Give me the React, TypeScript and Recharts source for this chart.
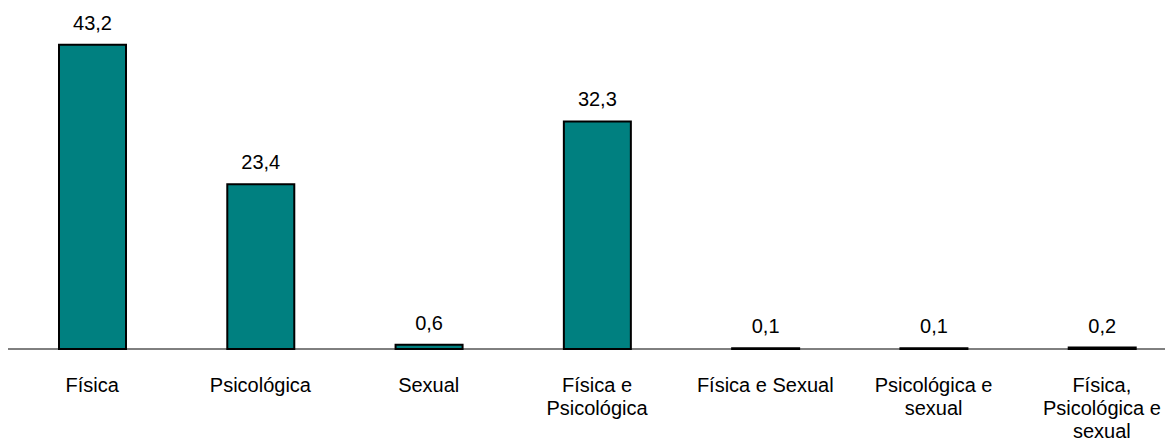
import { BarChart, Bar, XAxis, YAxis, LabelList } from 'recharts';

const categories = [
  'Física',
  'Psicológica',
  'Sexual',
  'Física e\nPsicológica',
  'Física e Sexual',
  'Psicológica e\nsexual',
  'Física,\nPsicológica e\nsexual',
];
const values = [43.2, 23.4, 0.6, 32.3, 0.1, 0.1, 0.2];

const data = categories.map((name, i) => ({ name, value: values[i] }));

const FONT = 'Liberation Sans, Arial, sans-serif';

function CategoryTick({ x, y, payload }: any) {
  const lines = String(payload.value).split('\n');
  return (
    <text x={x} y={y} textAnchor="middle" fill="#000" fontSize={20} fontFamily={FONT}>
      {lines.map((line, i) => (
        <tspan key={i} x={x} dy={i === 0 ? 35 : 23}>
          {line}
        </tspan>
      ))}
    </text>
  );
}

export default function App() {
  return (
    <div style={{ position: 'absolute', left: 0, top: 0, background: '#fff' }}>
      <BarChart
        width={1172}
        height={442}
        data={data}
        margin={{ top: 32, right: 7, bottom: 0, left: 8 }}
        barSize={67}
      >
        <XAxis
          dataKey="name"
          interval={0}
          tickLine={false}
          axisLine={{ stroke: '#000', strokeWidth: 1 }}
          tick={<CategoryTick />}
          height={93}
          padding={{ left: 0, right: -21 }}
        />
        <YAxis hide domain={[0, 45]} />
        <Bar dataKey="value" fill="#008080" stroke="#000" strokeWidth={2} isAnimationActive={false}>
          <LabelList
            dataKey="value"
            position="top"
            offset={15}
            formatter={(v: any) => String(v).replace('.', ',')}
            style={{ fill: '#000', fontSize: 20, fontFamily: FONT }}
          />
        </Bar>
      </BarChart>
    </div>
  );
}
